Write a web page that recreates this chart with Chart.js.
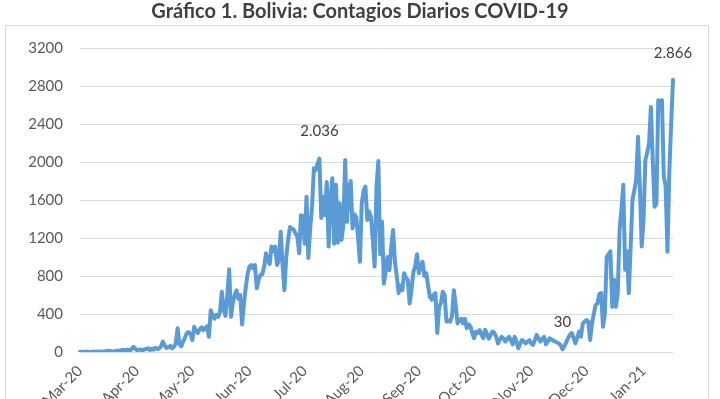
<!DOCTYPE html>
<html>
<head>
<meta charset="utf-8">
<script src="https://cdn.jsdelivr.net/npm/chart.js@4/dist/chart.umd.min.js"></script>
<style>
  html, body { margin: 0; padding: 0; background: #fff; }
  #wrap { width: 720px; height: 399px; position: relative; }
</style>
</head>
<body>
<div id="wrap"><canvas id="chartContagios"></canvas></div>
<script>
// Contagios diarios, desde el 10 de marzo de 2020
var startDate = [2020, 2, 10];
var mar20 = [2, 0, 1, 4, 3, 0, 1, 5, 2, 4, 2, 5, 0, 8, 3, 12, 10, 8, 6, 9, 14, 8];
var apr20 = [17, 20, 24, 15, 26, 10, 30, 55, 35, 18, 22, 26, 12, 30, 28, 40, 20, 35, 25, 45,
             30, 38, 60, 110, 70, 42, 50, 65, 38, 55];
var may20 = [90, 250, 80, 60, 110, 150, 200, 210, 190, 125, 265, 220, 200, 240, 260, 230, 250, 270, 160, 440,
             380, 350, 390, 370, 420, 635, 450, 380, 600, 870, 370];
var jun20 = [520, 600, 650, 560, 600, 290, 500, 680, 820, 900, 915, 880, 915, 670, 760, 810, 820, 900, 1040, 960,
             925, 1110, 1060, 1110, 915, 970, 1265, 915, 650, 1000];
var jul20 = [1180, 1315, 1300, 1290, 1250, 1215, 1040, 1440, 1430, 1140, 1635, 990, 1300, 1530, 1935, 1915, 1980, 2036, 1410, 1635,
             1440, 1790, 1110, 1600, 1830, 1140, 1760, 1150, 1565, 1180, 1335];
var aug20 = [2020, 1370, 1720, 1800, 1300, 1450, 1420, 1200, 950, 1570, 1700, 1740, 1390, 1480, 1420, 1180, 900, 1740, 2010, 1030,
             1370, 720, 850, 1000, 860, 1110, 1285, 950, 800, 620, 700];
var sep20 = [650, 830, 780, 760, 510, 650, 840, 900, 1030, 830, 900, 950, 800, 830, 700, 580, 550, 600, 620, 200,
             470, 520, 635, 600, 320, 330, 320, 380, 650, 495];
var oct20 = [300, 330, 350, 300, 350, 250, 290, 270, 200, 145, 215, 200, 230, 180, 145, 235, 190, 140, 180, 215,
             200, 160, 90, 130, 160, 140, 110, 140, 160, 120, 80];
var nov20 = [160, 110, 40, 90, 125, 110, 90, 110, 125, 90, 75, 125, 180, 140, 110, 140, 160, 80, 110, 145,
             130, 120, 110, 100, 90, 70, 30, 60, 100, 145];
var dec20 = [180, 200, 150, 90, 150, 215, 160, 300, 320, 335, 320, 125, 300, 400, 495, 510, 610, 620, 265, 400,
             1000, 1030, 1060, 475, 760, 475, 620, 1285, 1500, 1760, 865];
var jan21 = [1060, 620, 1100, 1600, 1700, 1810, 2265, 1745, 1110, 1390, 2020, 2100, 2195, 2580, 2020, 1530, 1560, 2650, 2640, 2650,
             1845, 1745, 1055, 1900, 2400, 2866];

var tickLabels = ['Mar-20', 'Apr-20', 'May-20', 'Jun-20', 'Jul-20', 'Aug-20',
                  'Sep-20', 'Oct-20', 'Nov-20', 'Dec-20', 'Jan-21'];
var yTicks = [0, 400, 800, 1200, 1600, 2000, 2400, 2800, 3200];
// etiquetas de datos: fecha y texto
var pointLabels = [['2020-07-18', '2.036'], ['2020-11-27', '30'], ['2021-01-26', '2.866']];

var values = [].concat(mar20, apr20, may20, jun20, jul20, aug20, sep20, oct20, nov20, dec20, jan21);

// fechas para el eje x
var days = [];
for (var i = 0; i < values.length; i++) {
    days.push(new Date(Date.UTC(startDate[0], startDate[1], startDate[2] + i)));
}
var dayLabels = days.map(function (d) { return d.toISOString().slice(0, 10); });

var framePlugin = {
    id: 'frame',
    beforeDraw: function (chart) {
        var ctx = chart.ctx;
        ctx.save();
        ctx.fillStyle = '#fff';
        ctx.fillRect(0, 0, chart.width, chart.height);
        ctx.strokeStyle = '#d9d9d9';
        ctx.lineWidth = 1;
        ctx.strokeRect(5.5, 25.5, 703, 400);
        ctx.fillStyle = '#404040';
        ctx.font = 'bold 20px Lato';
        ctx.textAlign = 'center';
        ctx.textBaseline = 'middle';
        ctx.fillText('Gráfico 1. Bolivia: Contagios Diarios COVID-19', 360, 12);
        ctx.restore();
    },
    afterDatasetsDraw: function (chart) {
        var ctx = chart.ctx;
        var xs = chart.scales.x, ys = chart.scales.y;
        ctx.save();
        ctx.fillStyle = '#404040';
        ctx.font = '15px Lato';
        ctx.textAlign = 'center';
        ctx.textBaseline = 'middle';
        pointLabels.forEach(function (l) {
            var idx = dayLabels.indexOf(l[0]);
            var px = xs.getPixelForValue(idx);
            var py = ys.getPixelForValue(values[idx]);
            ctx.fillText(l[1], px, py - 27);
        });
        ctx.restore();
    }
};

var ctx = document.getElementById('chartContagios');
var chart = new Chart(ctx, {
    type: 'line',
    data: {
        labels: dayLabels,
        datasets: [{
            label: 'Contagios diarios',
            data: values,
            borderColor: '#5b9bd5',
            borderWidth: 4,
            borderJoinStyle: 'round',
            borderCapStyle: 'round',
            pointRadius: 0,
            tension: 0,
            fill: false
        }]
    },
    options: {
        responsive: true,
        maintainAspectRatio: false,
        animation: false,
        layout: { padding: { top: 48, right: 47, bottom: 0, left: 0 } },
        plugins: {
            legend: { display: false },
            tooltip: { enabled: false }
        },
        scales: {
            x: {
                grid: { display: false },
                border: { display: false },
                afterFit: function (scale) { scale.height = 47; },
                ticks: {
                    autoSkip: false,
                    maxRotation: 45,
                    minRotation: 45,
                    padding: 2,
                    color: '#595959',
                    font: { family: 'Lato', size: 15 },
                    callback: function (val, index) {
                        var d = days[index];
                        if (d.getUTCDate() !== 10) return '';
                        var m = (d.getUTCFullYear() - 2020) * 12 + d.getUTCMonth() - 2;
                        return tickLabels[m];
                    }
                }
            },
            y: {
                min: 0,
                max: 3200,
                afterFit: function (scale) { scale.width = 80; },
                afterBuildTicks: function (scale) {
                    scale.ticks = yTicks.map(function (v) { return { value: v }; });
                },
                grid: { color: '#d9d9d9', lineWidth: 1, drawTicks: false },
                border: { display: false },
                ticks: {
                    padding: 17,
                    color: '#595959',
                    font: { family: 'Lato', size: 15 },
                    callback: function (v) { return String(v); }
                }
            }
        }
    },
    plugins: [framePlugin]
});
</script>
</body>
</html>
